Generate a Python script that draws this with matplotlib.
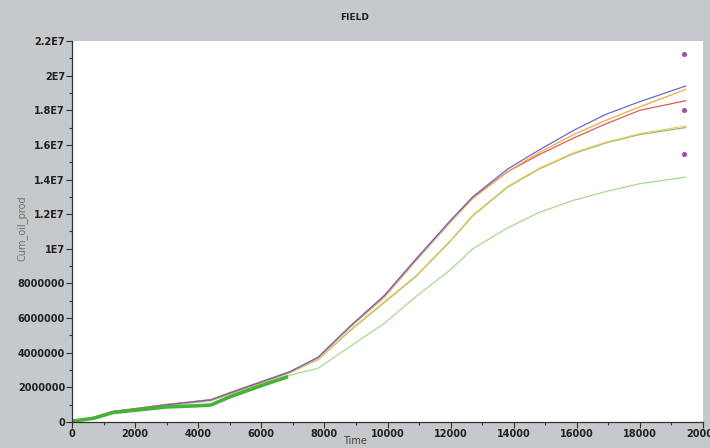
import matplotlib.pyplot as plt
from matplotlib.ticker import MultipleLocator, FuncFormatter

# simulation runs, sampled on a shared time grid
time = [0, 700, 1300, 2000, 3000, 3900, 4400, 5000, 6000, 6900, 7800,
        8800, 9900, 10900, 12000, 12700, 13800, 14800, 15900, 16900, 18000, 19450]

blue = [0, 0.27, 0.6, 0.76, 1.0, 1.18, 1.28, 1.68, 2.32, 2.9, 3.74,
        5.5, 7.3, 9.4, 11.65, 13.0, 14.6, 15.7, 16.84, 17.75, 18.5, 19.4]
orange = [0, 0.28, 0.62, 0.78, 1.02, 1.2, 1.3, 1.7, 2.34, 2.9, 3.7,
          5.45, 7.2, 9.3, 11.55, 12.9, 14.45, 15.55, 16.6, 17.4, 18.2, 19.2]
red = [0, 0.27, 0.6, 0.76, 1.0, 1.17, 1.27, 1.66, 2.3, 2.88, 3.72,
       5.5, 7.3, 9.4, 11.6, 12.95, 14.45, 15.43, 16.4, 17.2, 18.0, 18.55]
yellow = [0, 0.26, 0.58, 0.74, 0.98, 1.15, 1.25, 1.64, 2.27, 2.84, 3.62,
          5.3, 6.95, 8.45, 10.5, 11.95, 13.6, 14.65, 15.55, 16.15, 16.65, 17.1]
olive = [0, 0.26, 0.58, 0.74, 0.98, 1.15, 1.25, 1.64, 2.27, 2.84, 3.6,
         5.25, 6.9, 8.4, 10.45, 11.9, 13.55, 14.6, 15.5, 16.1, 16.6, 17.0]
light_green = [0, 0.25, 0.57, 0.72, 0.96, 1.12, 1.22, 1.6, 2.2, 2.7, 3.1,
               4.35, 5.7, 7.24, 8.8, 10.0, 11.2, 12.1, 12.8, 13.3, 13.76, 14.14]

# observed history
hist_time = [0, 300, 700, 1300, 2000, 3000, 3900, 4400, 5000, 6000, 6850]
hist_prod = [0.05, 0.12, 0.22, 0.55, 0.68, 0.87, 0.93, 0.98, 1.45, 2.1, 2.62]

# forecast points
pt_time = [19400, 19400, 19400]
pt_prod = [21.27, 18.04, 15.5]

ytick_labels = {0: '0', 2: '2000000', 4: '4000000', 6: '6000000', 8: '8000000',
                10: '1E7', 12: '1.2E7', 14: '1.4E7', 16: '1.6E7', 18: '1.8E7',
                20: '2E7', 22: '2.2E7'}

bg = '#c5c9cc'
fig = plt.figure(figsize=(7.1, 4.48), dpi=100, facecolor=bg)
ax = fig.add_axes([72 / 710, 26 / 448, 631 / 710, 381 / 448])
ax.set_facecolor('white')

ax.plot(time, light_green, color='#a8d890', lw=0.9)
ax.plot(time, olive, color='#98b868', lw=0.9)
ax.plot(time, yellow, color='#e8cf70', lw=0.9)
ax.plot(time, red, color='#e05a50', lw=0.9)
ax.plot(time, orange, color='#f0a848', lw=0.9)
ax.plot(time, blue, color='#6868cc', lw=0.9)
ax.plot(hist_time, hist_prod, color='#48b238', lw=2.6, solid_capstyle='butt')
ax.scatter(pt_time, pt_prod, color='#a050a8', s=7, zorder=5)

ax.set_xlim(0, 20000)
ax.set_ylim(0, 22)
ax.xaxis.set_major_locator(MultipleLocator(2000))
ax.xaxis.set_minor_locator(MultipleLocator(1000))
ax.yaxis.set_major_locator(MultipleLocator(2))
ax.yaxis.set_minor_locator(MultipleLocator(1))
ax.yaxis.set_major_formatter(FuncFormatter(lambda v, p: ytick_labels.get(int(round(v)), '')))

for s in ['top', 'right']:
    ax.spines[s].set_visible(False)
for s in ['left', 'bottom']:
    ax.spines[s].set_color('#303030')
    ax.spines[s].set_linewidth(0.9)

ax.tick_params(which='major', length=4, width=0.8, color='#303030',
               labelsize=7, labelcolor='#202020', pad=1)
ax.tick_params(which='minor', length=2.5, width=0.8, color='#303030')
for lab in ax.get_xticklabels() + ax.get_yticklabels():
    lab.set_fontweight('bold')

fig.text(0.5, 1 - 18 / 448, 'FIELD', ha='center', va='center',
         fontsize=6.5, fontweight='bold', color='#202020')
fig.text(0.5, 1 - 441 / 448, 'Time', ha='center', va='center',
         fontsize=7, color='#404040')
fig.text(22 / 710, 1 - 228 / 448, 'Cum_oil_prod', rotation=90, ha='center',
         va='center', fontsize=7, color='#707070')

fig.savefig('out.png', dpi=100, facecolor=bg)
